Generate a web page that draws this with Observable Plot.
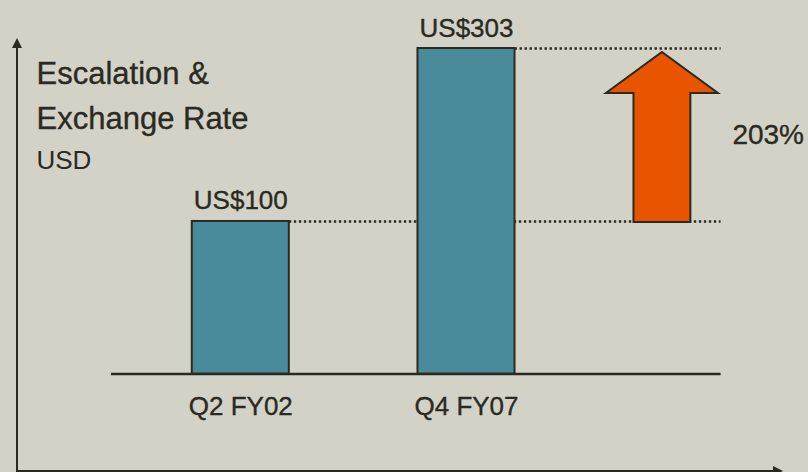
<!DOCTYPE html>
<html>
<head>
<meta charset="utf-8">
<script src="https://cdn.jsdelivr.net/npm/d3@7"></script>
<script src="https://cdn.jsdelivr.net/npm/@observablehq/plot@0.6"></script>
<style>
  html, body { margin: 0; padding: 0; background: #d2d2c6; }
  #chart svg { display: block; }
</style>
</head>
<body>
<div id="chart"></div>
<script>
// ---- data ----
const categories = ["Q2 FY02", "Q4 FY07"];
const values = [100, 303];
const valueLabels = ["US$100", "US$303"];
const changeLabel = "203%";
const titleLines = ["Escalation &", "Exchange Rate"];
const unitLabel = "USD";

// ---- chart ----
const ink = "#2a2a22";
const font = "'Liberation Sans', Arial, sans-serif";
const baseValue = -79;          // value at which the baseline is drawn
const halfBar = 0.215;           // half bar width, in category units
const arrowPos = 1.868;          // growth arrow centre, in category units
const lineEnd = 2.128;           // right end of baseline / guide lines
const textStroke = {stroke: ink, strokeWidth: 0.35};

const bars = categories.map((c, i) => ({i, category: c, value: values[i], label: valueLabels[i]}));

function axesArrows(index, scales, vals, dims) {
  const g = d3.create("svg:g");
  const x0 = 17, yb = 471, yTop = 38, xRight = 783;
  g.append("line").attr("x1", x0).attr("x2", x0).attr("y1", yb).attr("y2", yTop + 8)
    .attr("stroke", ink).attr("stroke-width", 2);
  g.append("path").attr("d", `M${x0},${yTop} L${x0 - 5},${yTop + 10} L${x0 + 5},${yTop + 10} Z`).attr("fill", ink);
  g.append("line").attr("x1", x0 - 1).attr("x2", xRight - 8).attr("y1", yb).attr("y2", yb)
    .attr("stroke", ink).attr("stroke-width", 2);
  g.append("path").attr("d", `M${xRight},${yb} L${xRight - 10},${yb - 5} L${xRight - 10},${yb + 5} Z`).attr("fill", ink);
  return g.node();
}

function growthArrow(index, scales) {
  const {x, y} = scales;
  const cx = x(arrowPos);
  const shaft = x(arrowPos + 0.126) - cx;
  const head = x(arrowPos + 0.248) - cx;
  const bottom = y(values[0]) + 1;
  const tip = y(values[1]) + 4;
  const headBase = tip + 41;
  const d = `M${cx - shaft},${bottom} L${cx - shaft},${headBase} L${cx - head},${headBase} L${cx},${tip} ` +
            `L${cx + head},${headBase} L${cx + shaft},${headBase} L${cx + shaft},${bottom} Z`;
  return d3.create("svg:path").attr("d", d).attr("fill", "#e85400")
    .attr("stroke", ink).attr("stroke-width", 2).attr("stroke-linejoin", "miter").node();
}

const chart = Plot.plot({
  width: 808,
  height: 472,
  margin: 0,
  style: {background: "#d2d2c6", fontFamily: font, color: ink},
  x: {type: "linear", domain: [0, 1], range: [240.3, 466], axis: null},
  y: {type: "linear", domain: [baseValue, 303], range: [373.5, 48], axis: null},
  marks: [
    axesArrows,
    // guide (dotted) lines from bar tops
    Plot.ruleY(bars, {y: "value", x1: d => d.i + halfBar, x2: lineEnd, stroke: ink, strokeWidth: 2.4, strokeDasharray: "2.4 2.6"}),
    // baseline
    Plot.ruleY([baseValue], {x1: -0.573, x2: lineEnd, stroke: ink, strokeWidth: 2.5}),
    // bars
    Plot.rect(bars, {x1: d => d.i - halfBar, x2: d => d.i + halfBar, y1: baseValue, y2: "value", fill: "#4a8b9b", stroke: ink, strokeWidth: 2}),
    growthArrow,
    // value labels
    Plot.text(bars, {x: "i", y: "value", text: "label", dy: -12, lineAnchor: "bottom", fontSize: 26, fill: ink, ...textStroke}),
    // category labels
    Plot.text(bars, {x: "i", y: baseValue, text: "category", dy: 40.5, lineAnchor: "bottom", fontSize: 26, fill: ink, ...textStroke}),
    // change label
    Plot.text([changeLabel], {x: arrowPos, y: (values[0] + values[1]) / 2, text: d => d, dx: 70, textAnchor: "start", lineAnchor: "middle", fontSize: 28, fill: ink, ...textStroke}),
    // title
    Plot.text([titleLines[0]], {frameAnchor: "top-left", text: d => d, dx: 36, dy: 83, textAnchor: "start", lineAnchor: "bottom", fontSize: 31, letterSpacing: 1.4, fill: ink, ...textStroke}),
    Plot.text([titleLines[1]], {frameAnchor: "top-left", text: d => d, dx: 36, dy: 128, textAnchor: "start", lineAnchor: "bottom", fontSize: 31, fill: ink, ...textStroke}),
    Plot.text([unitLabel], {frameAnchor: "top-left", text: d => d, dx: 36, dy: 168, textAnchor: "start", lineAnchor: "bottom", fontSize: 26, fill: ink})
  ]
});
document.getElementById("chart").append(chart);
</script>
</body>
</html>
